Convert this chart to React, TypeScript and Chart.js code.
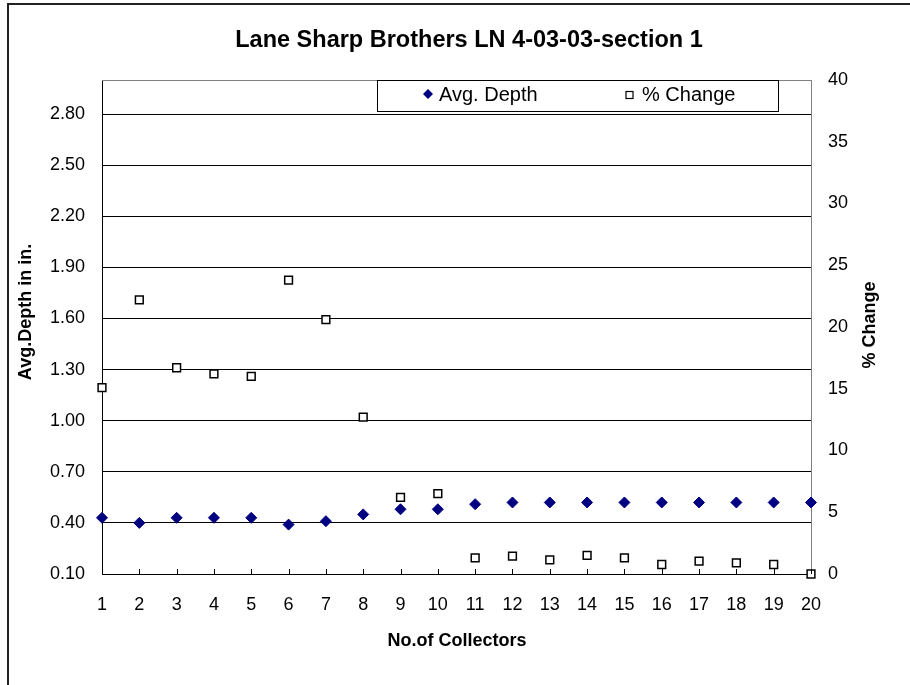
import { useEffect, useRef } from "react";
import { Chart, registerables } from "chart.js";

Chart.register(...registerables);

const FONT = "'Liberation Sans', Arial, sans-serif";

const titleText = "Lane Sharp Brothers LN 4-03-03-section 1";
const xTitle = "No.of Collectors";
const yTitle = "Avg.Depth in in.";
const y2Title = "% Change";
const seriesNames = ["Avg. Depth", "% Change"];

const collectors = [1, 2, 3, 4, 5, 6, 7, 8, 9, 10, 11, 12, 13, 14, 15, 16, 17, 18, 19, 20];
const avgDepth = [0.43, 0.40, 0.43, 0.43, 0.43, 0.39, 0.41, 0.45, 0.48, 0.48, 0.51, 0.52, 0.52, 0.52, 0.52, 0.52, 0.52, 0.52, 0.52, 0.52];
const pctChange = [15.1, 22.2, 16.7, 16.2, 16.0, 23.8, 20.6, 12.7, 6.2, 6.5, 1.3, 1.45, 1.15, 1.5, 1.3, 0.77, 1.04, 0.9, 0.77, 0];
const depthTicks = [0.1, 0.4, 0.7, 1.0, 1.3, 1.6, 1.9, 2.2, 2.5, 2.8];

const decorPlugin = {
  id: "decor",
  afterDraw(chart: any) {
    const { ctx, chartArea, scales } = chart;
    const { left, right, top, bottom } = chartArea;
    ctx.save();
    // outer frame
    ctx.strokeStyle = "#222";
    ctx.lineWidth = 2;
    ctx.beginPath();
    ctx.moveTo(8, 685);
    ctx.lineTo(8, 4);
    ctx.lineTo(910, 4);
    ctx.stroke();
    // top border of plot
    ctx.strokeStyle = "#808080";
    ctx.lineWidth = 1;
    ctx.beginPath();
    ctx.moveTo(left, Math.round(top) + 0.5);
    ctx.lineTo(right, Math.round(top) + 0.5);
    ctx.stroke();
    // inward x tick marks
    ctx.strokeStyle = "#000";
    ctx.beginPath();
    collectors.forEach((c) => {
      const px = Math.round(scales.x.getPixelForValue(c)) + 0.5;
      ctx.moveTo(px, bottom);
      ctx.lineTo(px, bottom - 5);
    });
    ctx.stroke();

    // title
    ctx.fillStyle = "#000";
    ctx.font = `bold 23.5px ${FONT}`;
    ctx.textAlign = "center";
    ctx.textBaseline = "middle";
    ctx.fillText(titleText, 469, 41);

    // axis titles
    ctx.font = `bold 18px ${FONT}`;
    ctx.fillText(xTitle, 457, 641);
    ctx.save();
    ctx.translate(26, 312);
    ctx.rotate(-Math.PI / 2);
    ctx.fillText(yTitle, 0, 0);
    ctx.restore();
    ctx.save();
    ctx.translate(870, 325);
    ctx.rotate(-Math.PI / 2);
    ctx.fillText(y2Title, 0, 0);
    ctx.restore();

    // legend
    ctx.fillStyle = "#fff";
    ctx.fillRect(377, 80, 401, 31);
    ctx.strokeStyle = "#000";
    ctx.lineWidth = 1;
    ctx.strokeRect(377.5, 80.5, 401, 31);
    // diamond
    ctx.fillStyle = "#000080";
    ctx.beginPath();
    ctx.moveTo(428, 89);
    ctx.lineTo(433, 94);
    ctx.lineTo(428, 99);
    ctx.lineTo(423, 94);
    ctx.closePath();
    ctx.fill();
    // square
    ctx.strokeStyle = "#000";
    ctx.lineWidth = 1.2;
    ctx.strokeRect(626, 91.5, 7, 7);
    ctx.fillStyle = "#000";
    ctx.font = `20px ${FONT}`;
    ctx.textAlign = "left";
    ctx.textBaseline = "middle";
    ctx.fillText(seriesNames[0], 439, 95);
    ctx.fillText(seriesNames[1], 642, 95);
    ctx.restore();
  },
};

export default function App() {
  const ref = useRef<HTMLCanvasElement>(null);
  useEffect(() => {
    const chart = new Chart(ref.current as HTMLCanvasElement, {
      type: "scatter",
      data: {
        datasets: [
          {
            label: seriesNames[0],
            data: collectors.map((c, i) => ({ x: c, y: avgDepth[i] })),
            yAxisID: "y",
            pointStyle: "rectRot",
            pointRadius: 5.5,
            backgroundColor: "#000080",
            borderColor: "#000080",
            borderWidth: 1,
            showLine: false,
            clip: false as any,
          },
          {
            label: seriesNames[1],
            data: collectors.map((c, i) => ({ x: c, y: pctChange[i] })),
            yAxisID: "y2",
            pointStyle: "rect",
            pointRadius: 5.5,
            backgroundColor: "#fff",
            borderColor: "#000",
            borderWidth: 1.5,
            showLine: false,
            clip: false as any,
          },
        ],
      },
      options: {
        responsive: false,
        animation: false,
        layout: { padding: { top: 80, left: 0, right: 0, bottom: 0 } },
        plugins: {
          legend: { display: false },
          title: { display: false },
          tooltip: { enabled: false },
        },
        scales: {
          x: {
            type: "linear",
            min: 1,
            max: 20,
            grid: { display: false, drawTicks: false },
            border: { display: true, color: "#000", width: 1 },
            ticks: {
              stepSize: 1,
              autoSkip: false,
              maxRotation: 0,
              padding: 20,
              color: "#000",
              font: { family: FONT, size: 18 },
            },
            afterFit: (s: any) => {
              s.height = 111;
            },
          },
          y: {
            position: "left",
            min: 0.1,
            max: 3.0,
            afterBuildTicks: (s: any) => {
              s.ticks = depthTicks.map((v) => ({ value: v }));
            },
            grid: { color: "#000", lineWidth: 1, drawTicks: false },
            border: { display: true, color: "#000", width: 1 },
            ticks: {
              padding: 17,
              color: "#000",
              font: { family: FONT, size: 18 },
              callback: (v: any) => Number(v).toFixed(2),
            },
            afterFit: (s: any) => {
              s.width = 102;
            },
          },
          y2: {
            position: "right",
            min: 0,
            max: 40,
            grid: { display: false, drawTicks: false },
            border: { display: true, color: "#808080", width: 1 },
            ticks: {
              stepSize: 5,
              padding: 17,
              color: "#000",
              font: { family: FONT, size: 18 },
            },
            afterFit: (s: any) => {
              s.width = 99;
            },
          },
        },
      } as any,
      plugins: [decorPlugin],
    });
    return () => chart.destroy();
  }, []);
  return (
    <canvas
      ref={ref}
      width={910}
      height={685}
      style={{ position: "absolute", left: 0, top: 0, width: 910, height: 685, display: "block" }}
    />
  );
}
